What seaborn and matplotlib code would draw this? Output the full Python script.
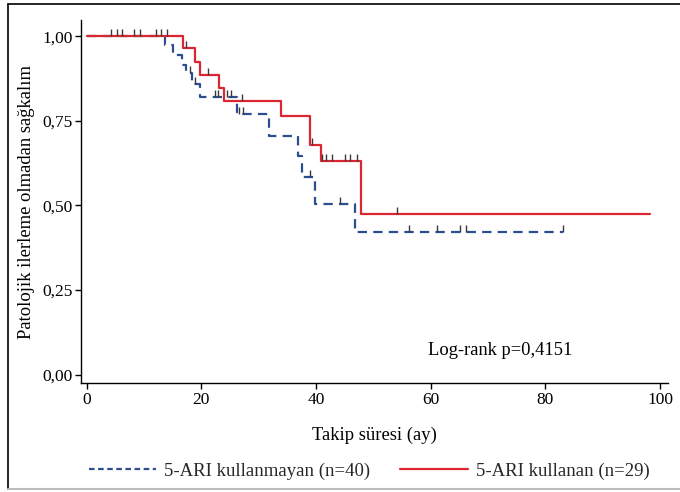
import numpy as np
import pandas as pd
import matplotlib
matplotlib.use("Agg")
import matplotlib.pyplot as plt
from matplotlib.path import Path
from matplotlib.lines import Line2D
import seaborn as sns

# ---- data ----
blue_label = "5-ARI kullanmayan (n=40)"
red_label = "5-ARI kullanan (n=29)"

blue_times = [0, 13.7, 15.0, 16.7, 17.3, 18.3, 19.8, 26.2, 31.8, 36.8, 37.6, 39.9, 46.8]
blue_surv = [1.0, 0.975, 0.945, 0.915, 0.89, 0.86, 0.82, 0.77, 0.706, 0.645, 0.585, 0.504, 0.42]
blue_end = 83.1
blue_censor = [12.0, 13.0, 18.0, 18.8, 22.3, 22.9, 24.4, 25.2, 26.6, 27.2, 39.0, 44.2,
               56.3, 61.1, 65.1, 66.1, 83.1]

red_times = [0, 16.8, 18.9, 19.8, 23.0, 24.0, 33.9, 39.0, 40.8, 47.9]
red_surv = [1.0, 0.964, 0.925, 0.886, 0.847, 0.809, 0.765, 0.679, 0.632, 0.474]
red_end = 98.2
red_censor = [4.2, 5.2, 6.2, 8.3, 9.3, 14.0, 17.3, 21.2, 27.1, 39.3, 41.1, 41.8, 42.7,
              45.0, 45.9, 47.1, 54.2]

x_ticks = [0, 20, 40, 60, 80, 100]
y_ticks = [0.0, 0.25, 0.5, 0.75, 1.0]
y_ticklabels = ["0,00", "0,25", "0,50", "0,75", "1,00"]
xlabel = "Takip süresi (ay)"
ylabel = "Patolojik ilerleme olmadan sağkalım"
annot = "Log-rank p=0,4151"

BLUE = "#2D4E8E"
RED = "#DB2631"

sns.set_theme(style="white")
plt.rcParams["font.family"] = ["Liberation Serif", "DejaVu Serif"]

fig = plt.figure(figsize=(6.8, 4.92), dpi=100)
ax = fig.add_axes([81 / 680, 1 - 383.3 / 492, (668 - 81) / 680, (383.3 - 20) / 492])


def step_frame(times, surv, end):
    t = list(times) + [end]
    s = list(surv) + [surv[-1]]
    return pd.DataFrame({"t": t, "s": s})


def surv_at(times, surv, x):
    idx = np.searchsorted(np.asarray(times), x, side="right") - 1
    return np.asarray(surv)[idx]


bdf = step_frame(blue_times, blue_surv, blue_end)
rdf = step_frame(red_times, red_surv, red_end)

sns.lineplot(data=bdf, x="t", y="s", ax=ax, drawstyle="steps-post", color=BLUE,
             lw=1.6, linestyle=(0, (4.2, 2.8)), estimator=None, sort=False)
sns.lineplot(data=rdf, x="t", y="s", ax=ax, drawstyle="steps-post", color=RED,
             lw=1.6, estimator=None, sort=False)

tick_marker = Path([(0, 0), (0, 1)], [Path.MOVETO, Path.LINETO])
ax.plot(blue_censor, surv_at(blue_times, blue_surv, blue_censor), linestyle="none",
        marker=tick_marker, markersize=10, mew=1.0, color="#3a3a3a")
ax.plot(red_censor, surv_at(red_times, red_surv, red_censor), linestyle="none",
        marker=tick_marker, markersize=10, mew=1.0, color="#3a3a3a")

ax.set_xlim(-1.0, 101.4)
ax.set_ylim(-0.026, 1.048)
ax.set_xticks(x_ticks)
ax.set_xticklabels([str(v) for v in x_ticks])
ax.set_yticks(y_ticks)
ax.set_yticklabels(y_ticklabels)
ax.tick_params(axis="both", direction="out", length=4, width=1, color="black",
               labelsize=12.5, labelcolor="black", pad=2, bottom=True, left=True)
for side in ["top", "right"]:
    ax.spines[side].set_visible(False)
for side in ["left", "bottom"]:
    ax.spines[side].set_color("black")
    ax.spines[side].set_linewidth(1.0)
ax.set_xlabel(xlabel, fontsize=13.4, color="black", labelpad=14)
ax.set_ylabel(ylabel, fontsize=13.4, color="black", labelpad=5)
ax.text(59.5, 0.072, annot, fontsize=13.3, ha="left", va="center", color="black")

handles = [Line2D([], [], color=BLUE, lw=1.6, linestyle=(0, (2.5, 1.6))),
           Line2D([], [], color=RED, lw=1.6)]
fig.legend(handles, [blue_label, red_label], loc="center", ncol=2,
           bbox_to_anchor=(369 / 680, 1 - 471 / 492), frameon=False, fontsize=13.5,
           handlelength=3.6, handletextpad=0.43, columnspacing=1.6)

# outer frame
fig.add_artist(Line2D([8 / 680, 8 / 680], [1 - 4 / 492, 1 - 489 / 492],
                      transform=fig.transFigure, color="black", lw=1.2))
fig.add_artist(Line2D([8 / 680, 1.0], [1 - 4 / 492, 1 - 4 / 492],
                      transform=fig.transFigure, color="black", lw=1.2))
fig.add_artist(Line2D([8 / 680, 1.0], [1 - 489 / 492, 1 - 489 / 492],
                      transform=fig.transFigure, color="#bbbbbb", lw=1.5))

fig.savefig("out.png", dpi=100)
